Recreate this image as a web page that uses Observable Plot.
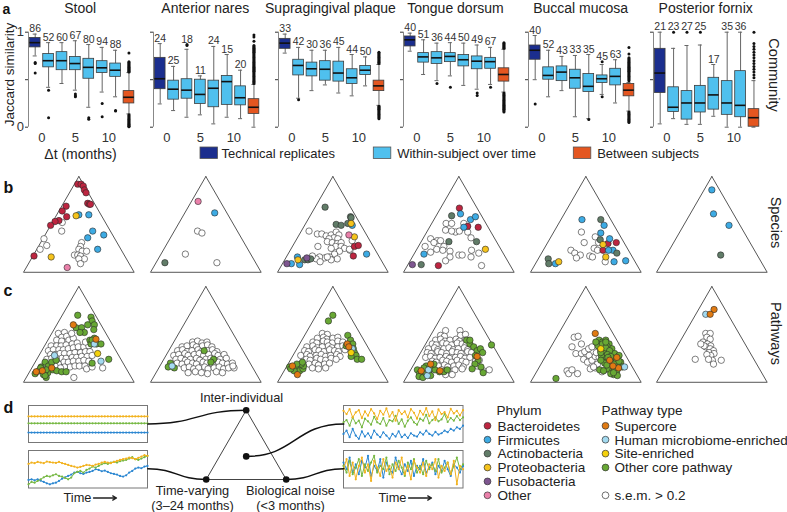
<!DOCTYPE html>
<html>
<head>
<meta charset="utf-8">
<script src="https://cdn.jsdelivr.net/npm/d3@7"></script>
<script src="https://cdn.jsdelivr.net/npm/@observablehq/plot@0.6"></script>
<style>
html,body{margin:0;padding:0;background:#fff;overflow:hidden;}
#fig{position:relative;width:787px;height:512px;overflow:hidden;background:#fff;}
</style>
</head>
<body>
<div id="fig"></div>
<script>
// ================= DATA =================
const sites = ["Stool", "Anterior nares", "Supragingival plaque", "Tongue dorsum", "Buccal mucosa", "Posterior fornix"];
const boxGroups = ["Technical replicates", "Within-subject over time", "Between subjects"];
const groupColors = ["#1b2e8e", "#4fc0ee", "#e45620"];
const deltaT = [-1, 1, 3, 5, 7, 9, 11, 13];          // box position, months
const boxGroupIndex = [0, 1, 1, 1, 1, 1, 1, 2];
const xTicks = [0, 5, 10];
const yTicks = [0, 0.5, 1];

// [lower whisker, q1, median, q3, upper whisker]
const stoolStats = [[0.75,0.84,0.89,0.94,0.98],[0.42,0.63,0.70,0.77,0.89],[0.46,0.60,0.70,0.79,0.89],[0.39,0.60,0.67,0.74,0.91],[0.21,0.51,0.63,0.72,0.87],[0.37,0.57,0.625,0.695,0.84],[0.32,0.53,0.60,0.67,0.81],[0.14,0.25,0.315,0.38,0.575]];
const naresStats = [[0.245,0.40,0.51,0.73,0.88],[0.175,0.29,0.40,0.49,0.64],[0.105,0.30,0.39,0.505,0.82],[0.13,0.245,0.345,0.50,0.54],[0.035,0.21,0.41,0.49,0.85],[0.105,0.235,0.48,0.54,0.765],[0.09,0.23,0.31,0.43,0.60],[0.0,0.14,0.21,0.295,0.45]];
const plaqueStats = [[0.78,0.825,0.885,0.93,0.98],[0.305,0.545,0.65,0.71,0.84],[0.385,0.535,0.615,0.68,0.81],[0.445,0.49,0.61,0.695,0.81],[0.36,0.48,0.57,0.69,0.84],[0.33,0.455,0.52,0.61,0.765],[0.435,0.55,0.60,0.645,0.74],[0.23,0.38,0.435,0.49,0.66]];
const tongueStats = [[0.80,0.85,0.92,0.955,0.99],[0.555,0.68,0.74,0.78,0.92],[0.49,0.665,0.73,0.79,0.885],[0.54,0.685,0.745,0.78,0.89],[0.44,0.64,0.71,0.76,0.885],[0.40,0.61,0.695,0.745,0.865],[0.45,0.615,0.69,0.73,0.84],[0.37,0.48,0.555,0.62,0.82]];
const buccalStats = [[0.50,0.71,0.81,0.86,0.965],[0.32,0.50,0.545,0.63,0.81],[0.385,0.485,0.58,0.64,0.745],[0.11,0.405,0.52,0.605,0.755],[0.09,0.37,0.43,0.56,0.765],[0.345,0.465,0.51,0.545,0.66],[0.255,0.44,0.535,0.615,0.71],[0.17,0.325,0.39,0.455,0.47]];
const fornixStats = [[0.035,0.36,0.57,0.825,1.0],[0.09,0.16,0.21,0.42,0.83],[0.03,0.08,0.255,0.38,0.86],[0.03,0.155,0.255,0.435,0.865],[0.115,0.185,0.34,0.52,0.66],[0.0,0.13,0.255,0.485,1.0],[0.0,0.105,0.23,0.59,1.0],[0.0,0.005,0.10,0.19,0.49]];

const stoolCounts = [86, 52, 60, 67, 80, 94, 88];
const naresCounts = [24, 25, 18, 11, 24, 15, 20];
const plaqueCounts = [33, 42, 30, 36, 45, 44, 50];
const tongueCounts = [40, 51, 36, 44, 50, 49, 67];
const buccalCounts = [40, 52, 43, 33, 35, 45, 63];
const fornixCounts = [21, 23, 27, 25, 17, 35, 36];

const stoolOutliers = [[0.68,0.67,0.57],[0.39,0.10],[],[0.35,0.33,0.32],[0.10,0.085],[0.25,0.11],[0.175,0.17],
  [0.78,0.69,0.68,0.67,0.66,0.65,0.64,0.63,0.62,0.61,0.60,0.59,0.58,0.13,0.12,0.11,0.10,0.09,0.08,0.07,0.06,0.05,0.04,0.03,0.02,0.01,0.005]];
const naresOutliers = [[],[],[0.86,0.87],[],[],[],[],
  [0.97,0.95,0.905,0.86,0.85,0.84,0.83,0.82,0.81,0.80,0.79,0.78,0.77,0.76,0.75,0.74,0.73,0.72,0.71,0.70,0.69,0.68,0.67,0.66,0.65,0.64,0.63,0.62,0.61,0.60,0.59,0.58,0.57,0.56,0.55,0.54,0.53,0.52,0.51,0.50,0.49,0.48,0.47,0.46]];
const plaqueOutliers = [[],[0.29],[],[],[],[],[],
  [0.79,0.78,0.77,0.76,0.75,0.74,0.73,0.72,0.71,0.70,0.69,0.68,0.67,0.22,0.21,0.20,0.19,0.18,0.17,0.16,0.15,0.14,0.13,0.12,0.11,0.10,0.09]];
const tongueOutliers = [[],[],[0.46],[0.42],[],[0.36,0.335],[0.42],
  [0.89,0.88,0.87,0.86,0.85,0.84,0.83,0.36,0.35,0.34,0.33,0.32,0.31,0.30,0.29,0.28,0.27,0.26,0.25,0.24,0.23,0.22,0.21,0.20,0.19,0.18,0.17,0.16]];
const buccalOutliers = [[0.245],[],[],[],[0.08],[0.69,0.32],[],
  [0.84,0.77,0.73,0.72,0.71,0.70,0.69,0.68,0.67,0.66,0.65,0.64,0.63,0.62,0.61,0.60,0.59,0.58,0.57,0.56,0.55,0.54,0.53,0.52,0.51,0.50,0.49,0.16,0.15,0.14,0.13,0.12,0.11,0.10,0.09,0.08,0.07,0.06,0.05]];
const fornixOutliers = [[],[1.0],[1.0],[1.0],[],[],[],
  [1.0,0.88,0.85,0.82,0.79,0.76,0.73,0.70,0.67,0.64,0.61,0.58,0.55,0.52]];

const siteStats = [stoolStats, naresStats, plaqueStats, tongueStats, buccalStats, fornixStats];
const siteCounts = [stoolCounts, naresCounts, plaqueCounts, tongueCounts, buccalCounts, fornixCounts];
const siteOutliers = [stoolOutliers, naresOutliers, plaqueOutliers, tongueOutliers, buccalOutliers, fornixOutliers];

// ternary points: [inter-individual share, biological-noise share]; time-varying = 1 - both
const ternaryCorners = [[1,0],[0,0],[0,1],[1,0]];
const equalShares = [1/3, 1/3];

const phyla = ["Bacteroidetes","Firmicutes","Actinobacteria","Proteobacteria","Fusobacteria","Other"];
const phylumColors = ["#bd2540","#3dabe4","#617c68","#f5c31c","#7e5690","#ea80aa"];
const pathwayTypes = ["Supercore","Human microbiome-enriched","Site-enriched","Other core pathway"];
const pathwayColors = ["#e07a12","#a3daf0","#f4d10c","#68a834"];
const semColor = "#ffffff";

const speciesStool = {
  sem: [[0.52,0.09],[0.43,0.13],[0.35,0.01],[0.28,0.07],[0.24,0.03],[0.31,0.37],[0.27,0.38],[0.24,0.38],[0.22,0.42],[0.22,0.46],[0.18,0.37],[0.18,0.40],[0.17,0.43],[0.14,0.48],[0.14,0.43],[0.09,0.47]],
  Bacteroidetes: [[0.92,0.03],[0.92,0.06],[0.90,0.09],[0.86,0.12],[0.83,0.15],[0.72,0.22],[0.71,0.24],[0.71,0.25],[0.69,0.04],[0.64,0.03],[0.58,0.10],[0.54,0.05],[0.53,0.02],[0.49,0.00],[0.17,0.01]],
  Proteobacteria: [[0.59,0.18],[0.16,0.17]],
  Firmicutes: [[0.60,0.20],[0.60,0.29],[0.43,0.41],[0.39,0.53],[0.36,0.40],[0.24,0.55]],
  Other: [[0.05,0.37]]
};
const speciesNares = {
  sem: [[0.43,0.21],[0.41,0.26],[0.19,0.22],[0.10,0.55]],
  Firmicutes: [[0.62,0.27]],
  Actinobacteria: [[0.10,0.08]],
  Other: [[0.74,0.06]]
};
const speciesPlaque = {
  sem: [[0.43,0.07],[0.40,0.16],[0.40,0.20],[0.38,0.25],[0.39,0.29],[0.42,0.32],[0.39,0.36],[0.36,0.33],[0.35,0.29],[0.35,0.37],[0.32,0.29],[0.31,0.34],[0.30,0.39],[0.31,0.42],[0.27,0.39],[0.25,0.36],[0.27,0.44],[0.25,0.48],[0.23,0.54],[0.22,0.45],[0.19,0.42],[0.16,0.39],[0.15,0.35],[0.16,0.30],[0.14,0.28],[0.17,0.23],[0.11,0.33],[0.14,0.47],[0.13,0.42],[0.16,0.37],[0.27,0.23],[0.33,0.51],[0.24,0.53]],
  Actinobacteria: [[0.68,0.09],[0.58,0.37],[0.57,0.38],[0.50,0.28],[0.49,0.33],[0.51,0.38],[0.13,0.18],[0.13,0.21],[0.14,0.23]],
  Firmicutes: [[0.49,0.43],[0.16,0.10],[0.09,0.08],[0.08,0.16],[0.19,0.71]],
  Proteobacteria: [[0.51,0.41],[0.37,0.51],[0.13,0.12]],
  Other: [[0.39,0.45]],
  Bacteroidetes: [[0.27,0.56],[0.28,0.59],[0.17,0.60]],
  Fusobacteria: [[0.09,0.04],[0.15,0.19]]
};
const speciesTongue = {
  sem: [[0.51,0.13],[0.51,0.18],[0.44,0.16],[0.42,0.26],[0.43,0.29],[0.51,0.29],[0.42,0.37],[0.36,0.43],[0.35,0.07],[0.33,0.14],[0.33,0.17],[0.31,0.12],[0.27,0.06],[0.27,0.23],[0.24,0.18],[0.23,0.24],[0.22,0.31],[0.21,0.14],[0.18,0.41],[0.18,0.44],[0.16,0.34],[0.12,0.32],[0.23,0.50],[0.20,0.58],[0.16,0.53],[0.07,0.67],[0.43,0.22]],
  Bacteroidetes: [[0.67,0.17],[0.48,0.34],[0.47,0.44],[0.07,0.28]],
  Firmicutes: [[0.61,0.21],[0.55,0.33],[0.58,0.36],[0.47,0.31],[0.19,0.09]],
  Actinobacteria: [[0.59,0.14],[0.32,0.25],[0.32,0.50],[0.08,0.12]],
  Fusobacteria: [[0.08,0.04]],
  Proteobacteria: [[0.24,0.62]]
};
const speciesBuccal = {
  sem: [[0.42,0.25],[0.37,0.40],[0.31,0.33],[0.23,0.25],[0.20,0.30],[0.18,0.36],[0.15,0.34],[0.17,0.45],[0.16,0.48],[0.25,0.45],[0.23,0.49],[0.11,0.62],[0.31,0.46]],
  Firmicutes: [[0.55,0.19],[0.49,0.42],[0.41,0.43],[0.35,0.54],[0.23,0.63],[0.11,0.70],[0.12,0.80],[0.09,0.18],[0.23,0.59]],
  Actinobacteria: [[0.55,0.36],[0.34,0.46],[0.20,0.68],[0.14,0.09],[0.09,0.12]],
  Bacteroidetes: [[0.30,0.55],[0.31,0.62],[0.23,0.54]],
  Proteobacteria: [[0.29,0.51],[0.16,0.60],[0.11,0.20]]
};
const speciesFornix = {
  Firmicutes: [[0.86,0.07],[0.61,0.21],[0.49,0.41]],
  Actinobacteria: [[0.18,0.49]]
};

const pathStool = {
  sem: [[0.51,0.06],[0.52,0.11],[0.47,0.11],[0.48,0.15],[0.44,0.08],[0.43,0.13],[0.44,0.19],[0.46,0.22],[0.38,0.06],[0.38,0.11],[0.38,0.15],[0.39,0.19],[0.40,0.24],[0.41,0.28],[0.33,0.06],[0.34,0.10],[0.34,0.15],[0.34,0.19],[0.35,0.23],[0.36,0.27],[0.37,0.31],[0.37,0.36],[0.38,0.40],[0.29,0.10],[0.29,0.14],[0.30,0.18],[0.30,0.22],[0.30,0.27],[0.31,0.31],[0.31,0.36],[0.32,0.40],[0.32,0.44],[0.24,0.09],[0.25,0.22],[0.25,0.26],[0.26,0.31],[0.26,0.35],[0.27,0.39],[0.27,0.44],[0.28,0.48],[0.21,0.26],[0.21,0.30],[0.22,0.34],[0.22,0.39],[0.23,0.43],[0.22,0.48],[0.16,0.34],[0.17,0.38],[0.17,0.42],[0.17,0.47],[0.14,0.50],[0.15,0.64],[0.05,0.43],[0.19,0.22],[0.17,0.20],[0.16,0.29],[0.15,0.26],[0.16,0.54],[0.25,0.13],[0.25,0.17],[0.42,0.35],[0.51,0.18]],
  "Other core pathway": [[0.70,0.14],[0.68,0.27],[0.64,0.30],[0.60,0.28],[0.60,0.34],[0.57,0.19],[0.57,0.24],[0.52,0.29],[0.52,0.25],[0.55,0.36],[0.44,0.38],[0.46,0.41],[0.40,0.46],[0.40,0.50],[0.40,0.41],[0.24,0.65],[0.20,0.52],[0.21,0.09],[0.16,0.08],[0.12,0.08],[0.09,0.06],[0.08,0.14],[0.05,0.18],[0.10,0.17],[0.13,0.20],[0.12,0.24],[0.11,0.29],[0.11,0.33],[0.17,0.14],[0.21,0.15],[0.23,0.18],[0.13,0.14],[0.15,0.08],[0.44,0.40],[0.07,0.16]],
  "Human microbiome-enriched": [[0.28,0.14],[0.40,0.44],[0.22,0.59]],
  "Site-enriched": [[0.30,0.52]],
  Supercore: [[0.60,0.15],[0.45,0.43],[0.12,0.11],[0.11,0.06],[0.15,0.18]]
};
const pathNares = {
  sem: [[0.42,0.17],[0.43,0.21],[0.41,0.26],[0.42,0.30],[0.37,0.10],[0.38,0.14],[0.39,0.19],[0.37,0.23],[0.38,0.28],[0.39,0.32],[0.37,0.37],[0.33,0.08],[0.34,0.12],[0.32,0.17],[0.33,0.21],[0.34,0.26],[0.32,0.30],[0.33,0.35],[0.34,0.39],[0.32,0.44],[0.28,0.07],[0.29,0.11],[0.30,0.16],[0.28,0.20],[0.29,0.25],[0.30,0.29],[0.28,0.34],[0.29,0.38],[0.30,0.43],[0.28,0.47],[0.29,0.52],[0.24,0.11],[0.25,0.15],[0.23,0.20],[0.24,0.24],[0.25,0.29],[0.23,0.33],[0.24,0.38],[0.25,0.42],[0.23,0.47],[0.24,0.51],[0.25,0.56],[0.20,0.14],[0.19,0.19],[0.21,0.23],[0.20,0.28],[0.19,0.32],[0.21,0.37],[0.20,0.41],[0.19,0.46],[0.21,0.51],[0.20,0.55],[0.19,0.60],[0.20,0.64],[0.15,0.23],[0.16,0.27],[0.14,0.32],[0.15,0.36],[0.16,0.41],[0.14,0.45],[0.15,0.50],[0.16,0.54],[0.14,0.59],[0.15,0.63],[0.15,0.68],[0.17,0.66],[0.10,0.29],[0.11,0.35],[0.10,0.41],[0.09,0.47],[0.11,0.54],[0.10,0.60]],
  "Other core pathway": [[0.33,0.32],[0.24,0.45],[0.20,0.08],[0.15,0.14],[0.16,0.08],[0.21,0.44]],
  "Human microbiome-enriched": [[0.17,0.11]]
};
const pathPlaque = {
  sem: [[0.51,0.15],[0.50,0.20],[0.46,0.13],[0.47,0.18],[0.45,0.22],[0.46,0.27],[0.47,0.31],[0.42,0.11],[0.41,0.15],[0.43,0.20],[0.42,0.24],[0.41,0.29],[0.43,0.33],[0.42,0.38],[0.37,0.08],[0.38,0.13],[0.36,0.18],[0.37,0.22],[0.38,0.27],[0.36,0.31],[0.37,0.36],[0.38,0.40],[0.33,0.08],[0.32,0.12],[0.34,0.17],[0.33,0.21],[0.32,0.26],[0.34,0.30],[0.33,0.35],[0.32,0.39],[0.34,0.44],[0.28,0.07],[0.29,0.12],[0.27,0.16],[0.28,0.21],[0.29,0.25],[0.27,0.30],[0.28,0.34],[0.29,0.39],[0.27,0.43],[0.24,0.14],[0.23,0.18],[0.25,0.23],[0.24,0.27],[0.23,0.32],[0.25,0.36],[0.24,0.41],[0.19,0.19],[0.20,0.24],[0.18,0.28],[0.19,0.33],[0.20,0.37],[0.15,0.24],[0.14,0.30],[0.15,0.36]],
  "Other core pathway": [[0.70,0.15],[0.64,0.14],[0.49,0.39],[0.44,0.44],[0.40,0.48],[0.35,0.51],[0.31,0.54],[0.28,0.57],[0.24,0.60],[0.24,0.64],[0.27,0.53],[0.38,0.43],[0.16,0.03],[0.16,0.06],[0.14,0.10],[0.12,0.14],[0.14,0.16],[0.17,0.15],[0.19,0.12],[0.19,0.08],[0.12,0.09],[0.14,0.05],[0.21,0.12]],
  "Human microbiome-enriched": [[0.35,0.50]],
  "Site-enriched": [[0.31,0.51]],
  Supercore: [[0.40,0.43],[0.37,0.46],[0.17,0.05],[0.08,0.14]]
};
const pathTongue = {
  sem: [[0.54,0.11],[0.54,0.24],[0.49,0.09],[0.48,0.13],[0.49,0.27],[0.50,0.31],[0.44,0.07],[0.45,0.11],[0.43,0.16],[0.44,0.20],[0.45,0.25],[0.43,0.29],[0.44,0.34],[0.40,0.06],[0.39,0.10],[0.41,0.15],[0.40,0.19],[0.39,0.24],[0.41,0.28],[0.40,0.33],[0.39,0.37],[0.35,0.05],[0.36,0.10],[0.34,0.14],[0.35,0.19],[0.36,0.23],[0.34,0.28],[0.35,0.32],[0.36,0.37],[0.34,0.41],[0.31,0.06],[0.30,0.10],[0.32,0.15],[0.31,0.19],[0.30,0.24],[0.32,0.28],[0.31,0.33],[0.30,0.37],[0.32,0.42],[0.31,0.46],[0.26,0.07],[0.27,0.11],[0.25,0.16],[0.26,0.20],[0.27,0.25],[0.25,0.29],[0.26,0.34],[0.27,0.38],[0.25,0.43],[0.26,0.47],[0.22,0.15],[0.21,0.19],[0.23,0.24],[0.22,0.28],[0.21,0.33],[0.23,0.37],[0.22,0.42],[0.21,0.46],[0.22,0.54],[0.23,0.57],[0.17,0.23],[0.18,0.28],[0.16,0.32],[0.17,0.37],[0.18,0.41],[0.16,0.46],[0.17,0.58],[0.13,0.28],[0.12,0.34],[0.13,0.40],[0.14,0.46],[0.12,0.66],[0.13,0.71],[0.08,0.34],[0.08,0.40]],
  "Other core pathway": [[0.44,0.35],[0.40,0.40],[0.37,0.45],[0.33,0.50],[0.35,0.52],[0.31,0.56],[0.28,0.51],[0.23,0.56],[0.19,0.55],[0.16,0.62],[0.10,0.67],[0.14,0.55],[0.39,0.60],[0.44,0.38],[0.13,0.06],[0.09,0.10],[0.06,0.11],[0.05,0.15],[0.09,0.16],[0.12,0.17],[0.17,0.12],[0.15,0.18],[0.13,0.22],[0.11,0.27],[0.11,0.31],[0.13,0.33],[0.15,0.11],[0.07,0.21],[0.19,0.18]],
  "Human microbiome-enriched": [[0.07,0.18],[0.13,0.16]],
  Supercore: [[0.19,0.15],[0.12,0.27],[0.12,0.10],[0.27,0.53]]
};
const pathBuccal = {
  sem: [[0.47,0.16],[0.48,0.19],[0.37,0.19],[0.40,0.26],[0.30,0.26],[0.30,0.31],[0.32,0.33],[0.35,0.35],[0.37,0.37],[0.28,0.39],[0.24,0.36],[0.21,0.41],[0.23,0.44],[0.27,0.45],[0.14,0.47],[0.15,0.51],[0.12,0.27],[0.09,0.30],[0.09,0.38],[0.13,0.31],[0.19,0.51],[0.11,0.59],[0.13,0.61],[0.26,0.49],[0.31,0.44],[0.16,0.49]],
  "Other core pathway": [[0.44,0.40],[0.42,0.44],[0.44,0.46],[0.40,0.51],[0.38,0.42],[0.37,0.48],[0.35,0.53],[0.35,0.56],[0.33,0.47],[0.31,0.52],[0.30,0.57],[0.30,0.61],[0.26,0.53],[0.24,0.58],[0.24,0.62],[0.23,0.66],[0.21,0.71],[0.20,0.57],[0.19,0.62],[0.17,0.67],[0.17,0.71],[0.16,0.75],[0.14,0.63],[0.13,0.68],[0.12,0.72],[0.13,0.56],[0.12,0.60],[0.08,0.71],[0.07,0.75],[0.04,0.21],[0.42,0.38],[0.28,0.50],[0.28,0.66],[0.09,0.68],[0.23,0.52],[0.38,0.50],[0.40,0.45],[0.36,0.50],[0.33,0.55],[0.29,0.55],[0.27,0.59],[0.21,0.62],[0.19,0.66],[0.15,0.68],[0.26,0.57],[0.31,0.48],[0.42,0.47],[0.18,0.60],[0.10,0.70],[0.22,0.69]],
  "Human microbiome-enriched": [[0.16,0.77]],
  "Site-enriched": [[0.35,0.46]],
  Supercore: [[0.51,0.33],[0.26,0.65],[0.15,0.72],[0.17,0.66],[0.23,0.60]]
};
const pathFornix = {
  sem: [[0.51,0.19],[0.51,0.23],[0.47,0.22],[0.45,0.26],[0.42,0.21],[0.40,0.26],[0.38,0.30],[0.37,0.26],[0.35,0.31],[0.33,0.35],[0.31,0.32],[0.30,0.37],[0.28,0.35],[0.29,0.31],[0.23,0.39],[0.19,0.42],[0.24,0.23],[0.23,0.47],[0.38,0.24],[0.40,0.20],[0.24,0.35]],
  "Human microbiome-enriched": [[0.71,0.09]],
  Supercore: [[0.76,0.14],[0.71,0.13]]
};
const speciesBySite = [speciesStool, speciesNares, speciesPlaque, speciesTongue, speciesBuccal, speciesFornix];
const pathwaysBySite = [pathStool, pathNares, pathPlaque, pathTongue, pathBuccal, pathFornix];

// panel d: three subjects (yellow, green, blue)
const seriesColors = ["#f2b21e", "#76b843", "#2a86d1"];
const timePoints = [0,1,2,3,4,5,6,7,8,9,10,11,12,13,14,15,16,17,18,19,20,21,22,23,24,25,26,27,28,29,30,31,32,33,34,35,36,37,38,39];
const stableLevels = [0.73, 0.52, 0.24];
const driftYellow = [0.66,0.70,0.68,0.72,0.70,0.68,0.73,0.71,0.70,0.69,0.72,0.68,0.66,0.63,0.60,0.58,0.55,0.57,0.60,0.63,0.62,0.60,0.64,0.66,0.70,0.72,0.70,0.68,0.72,0.75,0.78,0.80,0.82,0.85,0.83,0.80,0.84,0.88,0.92,0.90];
const driftGreen = [0.05,0.12,0.10,0.15,0.20,0.26,0.30,0.28,0.32,0.35,0.30,0.28,0.24,0.20,0.25,0.38,0.42,0.45,0.40,0.48,0.52,0.58,0.55,0.60,0.65,0.68,0.66,0.70,0.72,0.70,0.74,0.76,0.78,0.82,0.86,0.80,0.78,0.82,0.86,0.90];
const driftBlue = [0.18,0.20,0.17,0.20,0.16,0.12,0.08,0.05,0.08,0.10,0.15,0.22,0.26,0.30,0.34,0.40,0.42,0.38,0.36,0.40,0.42,0.45,0.50,0.48,0.44,0.46,0.42,0.38,0.36,0.34,0.30,0.28,0.32,0.40,0.45,0.52,0.55,0.53,0.58,0.60];
const offsetYellow = [0.90,0.80,0.95,0.70,0.85,0.92,0.68,0.88,0.75,0.95,0.82,0.65,0.90,0.78,0.97,0.72,0.86,0.60,0.92,0.80,0.88,0.70,0.95,0.84,0.66,0.90,0.78,0.98,0.74,0.88,0.62,0.94,0.80,0.86,0.70,0.96,0.82,0.90,0.76,0.92];
const offsetGreen = [0.55,0.62,0.45,0.70,0.52,0.60,0.40,0.66,0.58,0.48,0.72,0.55,0.50,0.68,0.45,0.62,0.58,0.75,0.50,0.64,0.42,0.60,0.70,0.55,0.48,0.66,0.60,0.78,0.52,0.62,0.70,0.58,0.64,0.80,0.56,0.68,0.60,0.74,0.62,0.70];
const offsetBlue = [0.20,0.30,0.10,0.35,0.15,0.05,0.28,0.12,0.22,0.08,0.30,0.18,0.10,0.25,0.15,0.05,0.20,0.12,0.28,0.10,0.18,0.08,0.22,0.15,0.12,0.25,0.18,0.30,0.20,0.15,0.26,0.18,0.22,0.30,0.25,0.35,0.30,0.40,0.35,0.45];
const noiseYellow = [0.50,0.80,0.30,0.70,0.20,0.60,0.85,0.40,0.65,0.15,0.75,0.55,0.30,0.80,0.45,0.60,0.25,0.70,0.50,0.85,0.35,0.60,0.20,0.75,0.55,0.40,0.70,0.30,0.65,0.50,0.80,0.25,0.60,0.45,0.70,0.35,0.75,0.05,0.60,0.50];
const noiseGreen = [0.60,0.40,0.75,0.35,0.55,0.80,0.30,0.65,0.45,0.70,0.90,0.40,0.60,0.50,0.85,0.35,0.65,0.45,0.75,0.55,0.30,0.70,0.50,0.80,0.40,0.60,0.35,0.75,0.50,0.65,0.45,0.80,0.40,0.55,0.70,0.35,0.60,0.85,0.50,0.65];
const noiseBlue = [0.70,0.50,0.85,0.40,0.65,0.35,0.75,0.55,0.90,0.30,0.60,0.45,0.80,0.25,0.70,0.50,0.40,0.85,0.55,0.35,0.65,0.45,0.75,0.30,0.60,0.50,0.80,0.40,0.55,0.70,0.35,0.60,0.45,0.75,0.50,0.30,0.65,0.55,0.40,0.60];

// ================= LAYOUT / RENDER =================
const FONT = '"Liberation Sans", Arial, Helvetica, sans-serif';
const fig = document.getElementById("fig");
function place(el, left, top) {
  el.style.position = "absolute";
  el.style.left = left + "px";
  el.style.top = top + "px";
  el.style.background = "transparent";
  el.style.overflow = "visible";
  el.style.maxWidth = "none";
  fig.appendChild(el);
  return el;
}

// ---- panel a ----
const AX0 = 27.7, AXSTEP = 125.1;
const A_ML = 24, A_MR = 4, A_MT = 31.7, A_MB = 20.3, A_W = 136.5, A_H = 147;
sites.forEach((name, i) => {
  const stats = siteStats[i], counts = siteCounts[i], outs = siteOutliers[i];
  const rows = stats.map((s, j) => ({t: deltaT[j], g: boxGroupIndex[j], lo: s[0], q1: s[1], med: s[2], q3: s[3], hi: s[4], n: counts[j], top: Math.max(s[4], ...outs[j])}));
  const pts = outs.flatMap((o, j) => o.map(v => ({t: deltaT[j], v})));
  const chart = Plot.plot({
    width: A_W, height: A_H, marginLeft: A_ML, marginRight: A_MR, marginTop: A_MT, marginBottom: A_MB,
    style: {fontFamily: FONT, fontSize: "13px", color: "#333"},
    x: {domain: [-2, 14.2], ticks: xTicks, tickSize: 0, tickPadding: 5.5, label: null},
    y: {domain: [0, 1], ticks: yTicks, tickSize: 3, tickPadding: 1.5, label: null,
        tickFormat: d => (i === 0 && d !== 0.5) ? String(d) : ""},
    color: {type: "identity"},
    marks: [
      Plot.ruleX([-2], {y1: 0, y2: 1, stroke: "#888", strokeWidth: 1}),
      Plot.ruleX(rows, {x: "t", y1: "lo", y2: "hi", stroke: "#666", strokeWidth: 1}),
      Plot.ruleY(rows, {y: "hi", x1: d => d.t - 0.3, x2: d => d.t + 0.3, stroke: "#666"}),
      Plot.ruleY(rows, {y: "lo", x1: d => d.t - 0.3, x2: d => d.t + 0.3, stroke: "#666"}),
      Plot.rect(rows, {x1: d => d.t - 0.8, x2: d => d.t + 0.8, y1: "q1", y2: "q3", fill: d => groupColors[d.g], stroke: "#3c3c3c", strokeWidth: 0.8}),
      Plot.ruleY(rows, {y: "med", x1: d => d.t - 0.8, x2: d => d.t + 0.8, stroke: "#111", strokeWidth: 1.6}),
      Plot.dot(pts, {x: "t", y: "v", r: 1.5, fill: "#111", stroke: "none"}),
      Plot.text(rows.filter(d => d.n != null), {x: "t", y: "top", text: d => String(d.n), dy: -2, lineAnchor: "bottom", fontSize: 10.5, fill: "#333"})
    ]
  });
  place(chart, AX0 + AXSTEP * i - A_ML, 0);
});

// ---- panels b and c (ternary) ----
const TRI_W = 110.7, TRI_H = 95.8, TRI_M = 6;
const triLeft = [23.3, 150, 276.7, 403.3, 530, 656.3];
const tx = d => d[1] + d[0] / 2;
const ty = d => d[0];
function ternary(groups, order, colorOf, left, apexY) {
  const marks = [Plot.line(ternaryCorners, {x: tx, y: ty, stroke: "#555", strokeWidth: 1})];
  order.forEach(k => {
    if (groups[k]) marks.push(Plot.dot(groups[k], {x: tx, y: ty, r: 3.2, fill: colorOf(k), stroke: "#2a2a2a", strokeWidth: 0.6}));
  });
  const chart = Plot.plot({
    width: TRI_W + 2 * TRI_M, height: TRI_H + 2 * TRI_M, margin: TRI_M,
    x: {domain: [0, 1], axis: null}, y: {domain: [0, 1], axis: null}, marks
  });
  place(chart, left - TRI_M, apexY - TRI_M);
}
const speciesOrder = ["sem", ...phyla];
const speciesColorOf = k => k === "sem" ? semColor : phylumColors[phyla.indexOf(k)];
const pathOrder = ["sem", "Other core pathway", "Human microbiome-enriched", "Site-enriched", "Supercore"];
const pathColorOf = k => k === "sem" ? semColor : pathwayColors[pathwayTypes.indexOf(k)];
speciesBySite.forEach((g, i) => ternary(g, speciesOrder, speciesColorOf, triLeft[i], 175.8));
pathwaysBySite.forEach((g, i) => ternary(g, pathOrder, pathColorOf, triLeft[i], 286));

// ---- panel d series boxes ----
const dBoxes = [
  {x: 28.3, y: 405, w: 119, h: 37, series: [timePoints.map(() => stableLevels[0]), timePoints.map(() => stableLevels[1]), timePoints.map(() => stableLevels[2])]},
  {x: 28.3, y: 449.5, w: 119, h: 37.5, series: [driftYellow, driftGreen, driftBlue]},
  {x: 343.3, y: 405, w: 119.5, h: 37, series: [offsetYellow, offsetGreen, offsetBlue]},
  {x: 343.3, y: 449.5, w: 119.5, h: 37.5, series: [noiseYellow, noiseGreen, noiseBlue]}
];
dBoxes.forEach(b => {
  const marks = [Plot.frame({stroke: "#777", strokeWidth: 1})];
  [2, 1, 0].forEach(k => {
    const rows = b.series[k].map((v, j) => ({t: timePoints[j], v}));
    marks.push(Plot.line(rows, {x: "t", y: "v", stroke: seriesColors[k], strokeWidth: 1}));
    marks.push(Plot.dot(rows, {x: "t", y: "v", r: 1.1, fill: seriesColors[k]}));
  });
  const chart = Plot.plot({
    width: b.w + 2, height: b.h + 2, margin: 1,
    x: {domain: [0, 39], axis: null}, y: {domain: [-0.06, 1.06], axis: null}, marks
  });
  place(chart, b.x - 1, b.y - 1);
});

// ---- overlay: text, legends, panel d schematic ----
const dTri = {x0: 205.7, y0: 479, w: 80};
const dPos = p => [dTri.x0 + tx(p) * dTri.w, dTri.y0 - ty(p) * dTri.w * 0.866];
const apex = dPos(ternaryCorners[0]), leftV = dPos(ternaryCorners[1]), rightV = dPos(ternaryCorners[2]), centre = dPos(equalShares);
const mid = b => b.y + b.h / 2;
const connectors = [
  [[dBoxes[0].x + dBoxes[0].w, mid(dBoxes[0])], apex],
  [[dBoxes[1].x + dBoxes[1].w, mid(dBoxes[1])], leftV],
  [centre, [dBoxes[2].x, mid(dBoxes[2])]],
  [rightV, [dBoxes[3].x, mid(dBoxes[3])]]
];

const panelLetters = [{t: "a", x: 2, y: 13}, {t: "b", x: 3, y: 192}, {t: "c", x: 3, y: 295}, {t: "d", x: 3, y: 412}];
const titles = sites.map((s, i) => ({t: s, x: AX0 + AXSTEP * i + 52, y: 12.5}));
const sideLabels = [{t: "Community", x: 773, y: 74.5}, {t: "Species", x: 775, y: 222}, {t: "Pathways", x: 775, y: 333}];
const legendA = boxGroups.map((g, i) => ({t: g, sx: [200, 373.3, 573.3][i], tx: [221, 396.7, 596.7][i], c: groupColors[i]}));
const dTexts = [
  {t: "Inter-individual", x: 241, y: 401},
  {t: "Time-varying", x: 192, y: 494}, {t: "(3–24 months)", x: 192, y: 509},
  {t: "Biological noise", x: 290, y: 494}, {t: "(<3 months)", x: 290, y: 509}
];
const timeLabels = [{t: "Time", x: 63, y: 501.5, ax: 93}, {t: "Time", x: 378, y: 501.5, ax: 408}];
const phylumRows = phyla.map((p, i) => ({t: p, c: phylumColors[i], y: 425.3 + 13.9 * i}));
const pathRows = pathwayTypes.map((p, i) => ({t: p, c: pathwayColors[i], y: 425.3 + 13.9 * i})).concat([{t: "s.e.m. > 0.2", c: semColor, y: 494.8}]);

const overlay = Plot.plot({
  width: 787, height: 512, margin: 0,
  style: {fontFamily: FONT, color: "#222"},
  x: {type: "identity", axis: null}, y: {type: "identity", axis: null},
  marks: [
    Plot.text(panelLetters.slice(0, 1), {x: "x", y: "y", text: "t", fontSize: 14, fontWeight: "bold", textAnchor: "start", lineAnchor: "bottom", fill: "#111"}),
    Plot.text(panelLetters.slice(1), {x: "x", y: "y", text: "t", fontSize: 16, fontWeight: "bold", textAnchor: "start", lineAnchor: "bottom", fill: "#111"}),
    Plot.text(titles, {x: "x", y: "y", text: "t", fontSize: 14, textAnchor: "middle", lineAnchor: "bottom", fill: "#222"}),
    Plot.text([{t: "Jaccard similarity", x: 13, y: 74}], {x: "x", y: "y", text: "t", fontSize: 13.5, rotate: -90, textAnchor: "middle", lineAnchor: "bottom", fill: "#222"}),
    Plot.text([{t: "Δt (months)", x: 80, y: 158.5}], {x: "x", y: "y", text: "t", fontSize: 14, textAnchor: "middle", lineAnchor: "bottom", fill: "#222"}),
    Plot.rect(legendA, {x1: "sx", x2: d => d.sx + 17.5, y1: 147, y2: 158.5, fill: "c", stroke: "#555", strokeWidth: 0.8}),
    Plot.text(legendA, {x: "tx", y: 157, text: "t", fontSize: 13, textAnchor: "start", lineAnchor: "bottom", fill: "#222"}),
    Plot.text(sideLabels, {x: "x", y: "y", text: "t", fontSize: 14.5, rotate: 90, textAnchor: "middle", lineAnchor: "middle", fill: "#222"}),
    // panel d schematic
    Plot.line(ternaryCorners.map(dPos), {x: d => d[0], y: d => d[1], stroke: "#444", strokeWidth: 1}),
    ...connectors.map(c => Plot.line(c, {x: d => d[0], y: d => d[1], curve: "bump-x", stroke: "#111", strokeWidth: 1.5})),
    Plot.dot([apex, leftV, rightV, centre], {x: d => d[0], y: d => d[1], r: 3.3, fill: "#111"}),
    Plot.text(dTexts, {x: "x", y: "y", text: "t", fontSize: 12.8, textAnchor: "middle", lineAnchor: "bottom", fill: "#222"}),
    Plot.text(timeLabels, {x: "x", y: "y", text: "t", fontSize: 12.8, textAnchor: "start", lineAnchor: "bottom", fill: "#222"}),
    Plot.arrow(timeLabels, {x1: "ax", x2: d => d.ax + 23, y1: 497.5, y2: 497.5, headLength: 5, strokeWidth: 1.3, stroke: "#222"}),
    // legend d
    Plot.text([{t: "Phylum", x: 496, y: 414}, {t: "Pathway type", x: 601, y: 414}], {x: "x", y: "y", text: "t", fontSize: 13.5, textAnchor: "start", lineAnchor: "bottom", fill: "#222"}),
    Plot.dot(phylumRows, {x: 487, y: "y", r: 3.4, fill: "c", stroke: "#333", strokeWidth: 0.7}),
    Plot.text(phylumRows, {x: 497, y: d => d.y + 4.8, text: "t", fontSize: 13.5, textAnchor: "start", lineAnchor: "bottom", fill: "#222"}),
    Plot.dot(pathRows, {x: 605, y: "y", r: 3.4, fill: "c", stroke: "#333", strokeWidth: 0.7}),
    Plot.text(pathRows, {x: 614, y: d => d.y + 4.8, text: "t", fontSize: 13.5, textAnchor: "start", lineAnchor: "bottom", fill: "#222"})
  ]
});
place(overlay, 0, 0);
</script>
</body>
</html>
